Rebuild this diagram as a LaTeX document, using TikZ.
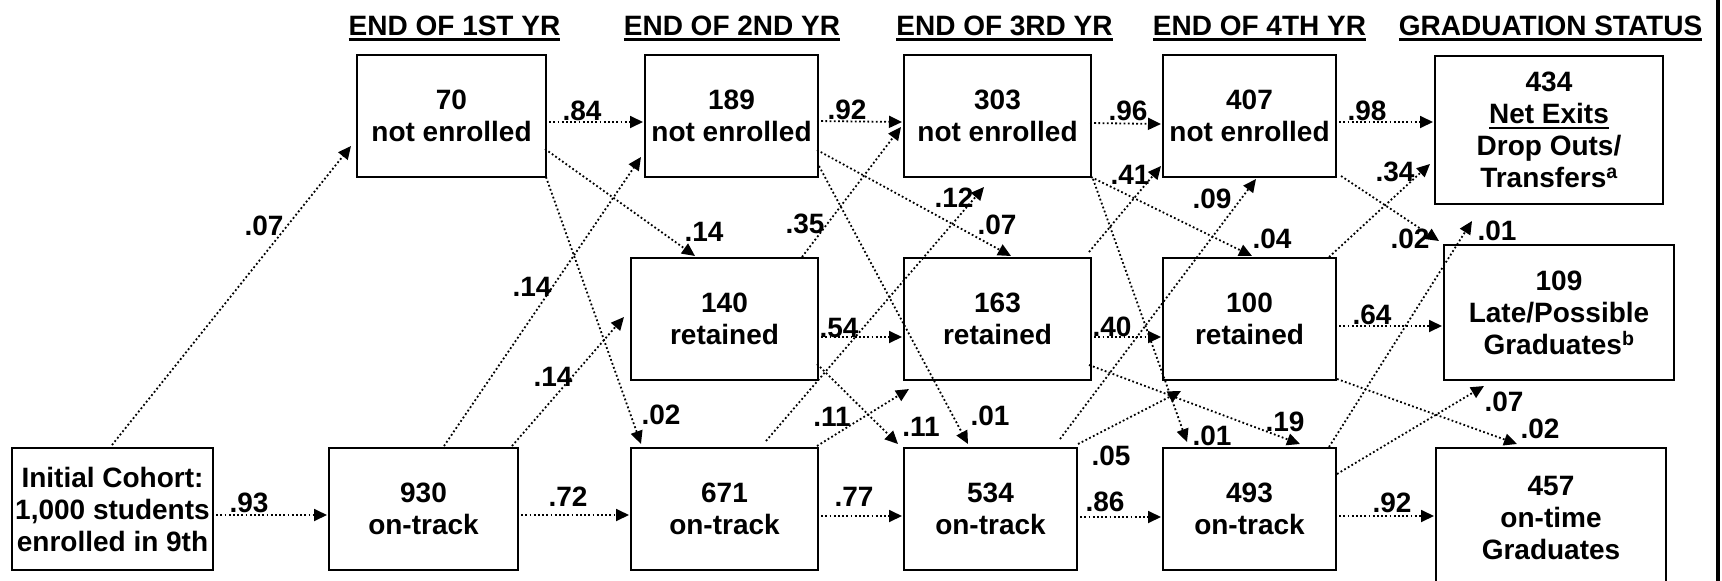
\documentclass[tikz,border=0pt]{standalone}
\usepackage{fontspec}
\setmainfont{Liberation Sans}
\usetikzlibrary{arrows.meta,calc}
% underline drawn as a rule below the baseline
\newcommand\undl[1]{\setbox0=\hbox{#1}\rlap{\rule[-5.5pt]{\wd0}{2.2pt}}\box0}
\begin{document}
\begin{tikzpicture}[x=1pt,y=-1pt,
  txt/.style={font=\bfseries\fontsize{28}{32}\selectfont},
  box/.style={txt,draw,line width=2pt,rectangle,inner sep=0pt,align=center},
  flow/.style={line width=1.8pt,dash pattern=on 1.8pt off 2.4pt,
               -{Triangle[length=13pt,width=12pt]}},
  prob/.style={txt,inner sep=0pt},
  head/.style={txt,inner sep=0pt,anchor=base}]
\useasboundingbox (0,0) rectangle (1722,581);
\clip (0,0) rectangle (1722,581);

% column headings
\node[head] (h1) at (454.5,35) {\undl{END OF 1ST YR}};
\node[head] (h2) at (732,35) {\undl{END OF 2ND YR}};
\node[head] (h3) at (1004.5,35) {\undl{END OF 3RD YR}};
\node[head] (h4) at (1259.5,35) {\undl{END OF 4TH YR}};
\node[head] (h5) at (1550.5,35) {\undl{GRADUATION STATUS}};

% status boxes
\node[box,minimum width=201pt,minimum height=122pt] (init) at (112.5,509) {Initial Cohort:\\1,000 students\\enrolled in 9th};
\node[box,minimum width=189pt,minimum height=122pt] (n70)  at (451.5,116) {70\\not enrolled};
\node[box,minimum width=189pt,minimum height=122pt] (n930) at (423.5,509) {930\\on-track};
\node[box,minimum width=173pt,minimum height=122pt] (n189) at (731.5,116) {189\\not enrolled};
\node[box,minimum width=187pt,minimum height=122pt] (n140) at (724.5,319) {140\\retained};
\node[box,minimum width=187pt,minimum height=122pt] (n671) at (724.5,509) {671\\on-track};
\node[box,minimum width=187pt,minimum height=122pt] (n303) at (997.5,116) {303\\not enrolled};
\node[box,minimum width=187pt,minimum height=122pt] (n163) at (997.5,319) {163\\retained};
\node[box,minimum width=173pt,minimum height=122pt] (n534) at (990.5,509) {534\\on-track};
\node[box,minimum width=173pt,minimum height=122pt] (n407) at (1249.5,116) {407\\not enrolled};
\node[box,minimum width=173pt,minimum height=122pt] (n100) at (1249.5,319) {100\\retained};
\node[box,minimum width=173pt,minimum height=122pt] (n493) at (1249.5,509) {493\\on-track};
\node[box,minimum width=228pt,minimum height=148pt] (n434) at (1549,130) {434\\\undl{Net Exits}\\Drop Outs/\\Transfers\textsuperscript{a}};
\node[box,minimum width=230pt,minimum height=135pt] (n109) at (1559,312.5) {109\\Late/Possible\\Graduates\textsuperscript{b}};
\node[box,minimum width=230pt,minimum height=139pt] (n457) at (1551,517.5) {457\\on-time\\Graduates};

% transitions
\draw[flow] ($(init.north west)+(101,-2)$) -- ($(n70.north west)+(-5,92)$);
\draw[flow] ($(init.north west)+(201,68)$) -- ($(n930.north west)+(-1,68)$);
\draw[flow] ($(n70.north west)+(189,68)$) -- ($(n189.north west)+(-1,68)$);
\draw[flow] ($(n70.north west)+(189,95)$) -- ($(n140.north west)+(65,-1)$);
\draw[flow] ($(n70.north west)+(190,123)$) -- ($(n671.north west)+(11,-3)$);
\draw[flow] ($(n930.north west)+(116,-1)$) -- ($(n189.north west)+(-3,103)$);
\draw[flow] ($(n930.north west)+(184,-1)$) -- ($(n140.north west)+(-6,60)$);
\draw[flow] ($(n930.north west)+(189,68)$) -- ($(n671.north west)+(-1,68)$);
\draw[flow] ($(n189.north west)+(173,67)$) -- ($(n303.north west)+(-1,68)$);
\draw[flow] ($(n189.north west)+(173,96)$) -- ($(n163.north west)+(108,-1)$);
\draw[flow] ($(n189.north west)+(175,112)$) -- ($(n534.north west)+(65,-3)$);
\draw[flow] ($(n140.north west)+(172,0)$) -- ($(n303.north west)+(-2,73)$);
\draw[flow] ($(n140.north west)+(187,80)$) -- ($(n163.north west)+(-1,80)$);
\draw[flow] ($(n140.north west)+(187,107)$) -- ($(n534.north west)+(-5,-3)$);
\draw[flow] ($(n671.north west)+(136,-6)$) -- ($(n303.north west)+(81,133)$);
\draw[flow] ($(n671.north west)+(187,-1)$) -- ($(n163.north west)+(6,132)$);
\draw[flow] ($(n671.north west)+(187,69)$) -- ($(n534.north west)+(-1,69)$);
\draw[flow] ($(n303.north west)+(187,69)$) -- ($(n407.north west)+(-1,70)$);
\draw[flow] ($(n303.north west)+(188,123)$) -- ($(n100.north west)+(90,-1)$);
\draw[flow] ($(n303.north west)+(190,125)$) -- ($(n493.north west)+(25,-5)$);
\draw[flow] ($(n163.north west)+(186,-5)$) -- ($(n407.north west)+(-1,112)$);
\draw[flow] ($(n163.north west)+(187,80)$) -- ($(n100.north west)+(-1,80)$);
\draw[flow] ($(n163.north west)+(186,108)$) -- ($(n493.north west)+(138,-3)$);
\draw[flow] ($(n534.north west)+(157,-8)$) -- ($(n407.north west)+(94,125)$);
\draw[flow] ($(n534.north west)+(175,-3)$) -- ($(n100.north west)+(19,134)$);
\draw[flow] ($(n534.north west)+(173,70)$) -- ($(n493.north west)+(-1,70)$);
\draw[flow] ($(n407.north west)+(173,68)$) -- ($(n434.north west)+(-1,67)$);
\draw[flow] ($(n407.north west)+(179,122)$) -- ($(n109.north west)+(-4,-3)$);
\draw[flow] ($(n100.north west)+(167,0)$) -- ($(n434.north west)+(-4,109)$);
\draw[flow] ($(n100.north west)+(173,69)$) -- ($(n109.north west)+(-1,82)$);
\draw[flow] ($(n100.north west)+(175,122)$) -- ($(n457.north west)+(82,-3)$);
\draw[flow] ($(n493.north west)+(167,0)$) -- ($(n434.north west)+(38,166)$);
\draw[flow] ($(n493.north west)+(175,27)$) -- ($(n109.north west)+(41,142)$);
\draw[flow] ($(n493.north west)+(173,69)$) -- ($(n457.north west)+(-1,69)$);

% transition probabilities
\node[prob] (p01) at (264,226) {.07};
\node[prob] (p02) at (249,503) {.93};
\node[prob] (p03) at (582,111) {.84};
\node[prob] (p04) at (704,232) {.14};
\node[prob] (p05) at (661,415) {.02};
\node[prob] (p06) at (532,287) {.14};
\node[prob] (p07) at (553,377) {.14};
\node[prob] (p08) at (568,497) {.72};
\node[prob] (p09) at (847,110) {.92};
\node[prob] (p10) at (997,225) {.07};
\node[prob] (p11) at (990,416) {.01};
\node[prob] (p12) at (805,224) {.35};
\node[prob] (p13) at (839,328) {.54};
\node[prob] (p14) at (921,427) {.11};
\node[prob] (p15) at (954,198) {.12};
\node[prob] (p16) at (832,417) {.11};
\node[prob] (p17) at (854,497) {.77};
\node[prob] (p18) at (1128,111) {.96};
\node[prob] (p19) at (1272,239) {.04};
\node[prob] (p20) at (1212,436) {.01};
\node[prob] (p21) at (1130,175) {.41};
\node[prob] (p22) at (1112,327) {.40};
\node[prob] (p23) at (1285,422) {.19};
\node[prob] (p24) at (1212,199) {.09};
\node[prob] (p25) at (1111,456) {.05};
\node[prob] (p26) at (1105,502) {.86};
\node[prob] (p27) at (1367,111) {.98};
\node[prob] (p28) at (1410,239) {.02};
\node[prob] (p29) at (1395,172) {.34};
\node[prob] (p30) at (1372,315) {.64};
\node[prob] (p31) at (1540,429) {.02};
\node[prob] (p32) at (1497,231) {.01};
\node[prob] (p33) at (1504,402) {.07};
\node[prob] (p34) at (1392,503) {.92};

% right-hand frame rule
\draw[line width=4pt] (1718,0) -- (1718,581);
\end{tikzpicture}
\end{document}
